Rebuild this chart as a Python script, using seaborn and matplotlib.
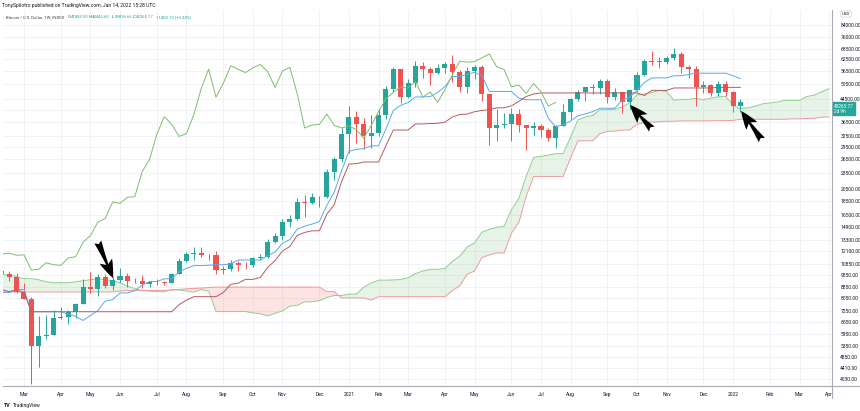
import numpy as np
import pandas as pd
import matplotlib
matplotlib.use("Agg")
import matplotlib.pyplot as plt
from matplotlib.lines import Line2D
import seaborn as sns

# BTC / USD weekly candles (INDEX), week 0 = week of Mon 2 Mar 2020
week = list(range(-3, 98))
opens = [10150, 9920, 9670, 8530, 8030, 5360, 5830, 5880, 6780, 6880,
         7130, 7700, 8900, 8720, 9680, 8920, 9450, 9750, 9340, 9300,
         9130, 9290, 9230, 9170, 9930, 11050, 11770, 11850, 11650, 11680,
         10250, 10330, 10920, 10740, 10680, 11380, 11500, 13030, 13780, 15480,
         15950, 18400, 18180, 19150, 19250, 23850, 26500, 33000, 38200, 35800,
         32250, 33100, 38900, 48600, 57500, 45200, 51000, 59200, 57350, 55800,
         58200, 59800, 56200, 49100, 56600, 58300, 46500, 34700, 35600, 35800,
         39100, 35500, 34700, 35300, 34200, 31800, 35400, 39900, 44600, 47100,
         49300, 48800, 51800, 45200, 47250, 43200, 48200, 54700, 61500, 61000,
         61300, 63300, 65500, 58700, 57300, 49400, 50100, 46700, 50800, 47300,
         41883.50]
highs = [10500, 10180, 9960, 9190, 8170, 6900, 6980, 7300, 7470, 7300,
         7750, 9460, 10050, 9950, 9900, 9740, 10400, 10000, 9620, 9800,
         9370, 9470, 9330, 10000, 11400, 12000, 12480, 12470, 11800, 12090,
         10600, 11180, 11100, 10950, 11500, 11740, 13350, 14070, 15950, 16500,
         19000, 19500, 19900, 19400, 24300, 27000, 34800, 41950, 40100, 37850,
         38700, 40950, 49700, 58300, 57500, 52600, 61700, 61200, 58400, 60200,
         61200, 64900, 57000, 58500, 59500, 59600, 46500, 40900, 39500, 41300,
         41000, 35700, 36600, 35900, 34700, 35500, 42600, 44800, 48200, 49500,
         50500, 52900, 52900, 48800, 47300, 48400, 56000, 62900, 67000, 63700,
         64200, 69000, 66300, 59300, 59100, 51900, 50600, 52000, 52100, 47600,
         44443.60]
lows = [9700, 9300, 8450, 8000, 3850, 4450, 5680, 5860, 6760, 6460,
        6780, 7640, 8400, 8200, 8800, 8630, 9280, 8900, 9200, 8830,
        8900, 9050, 9000, 9150, 9900, 10950, 11150, 11500, 11150, 9880,
        9880, 10200, 10140, 10380, 10530, 11200, 11400, 12950, 13300, 14850,
        15800, 16200, 18150, 17600, 19000, 22300, 26000, 28000, 30400, 28850,
        29150, 32300, 37400, 47050, 43000, 44950, 49300, 53300, 50350, 54900,
        55500, 51500, 47100, 47000, 53000, 43900, 30000, 31000, 34800, 31000,
        33400, 28800, 32700, 32100, 31100, 29300, 35200, 37400, 43900, 43900,
        46300, 46500, 43000, 44000, 39600, 40800, 47100, 54000, 59600, 58000,
        60000, 62300, 55600, 53300, 42000, 46800, 45500, 45600, 45700, 39650,
        39896.66]
closes = [9920, 9670, 8530, 8030, 5360, 5830, 5880, 6780, 6880, 7130,
          7700, 8900, 8720, 9680, 8920, 9450, 9750, 9340, 9300, 9130,
          9290, 9230, 9170, 9930, 11050, 11770, 11850, 11650, 11680, 10250,
          10330, 10920, 10740, 10680, 11380, 11500, 13030, 13780, 15480, 15950,
          18400, 18180, 19150, 19250, 23850, 26500, 33000, 38200, 35800, 32250,
          33100, 38900, 48600, 57500, 45200, 51000, 59200, 57350, 55800, 58200,
          59800, 56200, 49100, 56600, 58300, 46500, 34700, 35600, 35800, 39100,
          35500, 34700, 35300, 34200, 31800, 35400, 39900, 44600, 47100, 49300,
          48800, 51800, 45200, 47250, 43200, 48200, 54700, 61500, 61000, 61300,
          63300, 65500, 58700, 57300, 49400, 50100, 46700, 50800, 47300, 41866,
          43265.77]

# Ichimoku lines
conversion = [8465, 8465, 8685, 8685, 7175, 7175, 7175, 7175, 7175, 7015,
              6905, 6655, 6950, 7250, 7865, 7955, 8430, 8430, 8590, 9020,
              9300, 9300, 9515, 9515, 10115, 10415, 10655, 10655, 10690, 10740,
              10740, 10815, 11180, 11180, 11180, 11175, 11615, 11975, 12915, 13320,
              14570, 14940, 15215, 15550, 17850, 19975, 24050, 28400, 28875, 29075,
              29775, 29775, 34350, 40300, 42150, 43150, 45275, 45275, 45425, 47000,
              49550, 53950, 53950, 54925, 55950, 54400, 47450, 47450, 47450, 47450,
              44800, 44200, 44200, 44200, 37650, 35050, 35700, 36800, 38500, 39150,
              39900, 41100, 41100, 41100, 44050, 45150, 47800, 51250, 53300, 53300,
              53300, 54300, 54300, 54900, 55500, 55500, 55500, 55500, 55500, 54325,
              52975]
base = [8690, 8515, 8665, 8465, 7175, 7175, 7175, 7175, 7175, 7175,
        7175, 7175, 7175, 7175, 7175, 7175, 7175, 7175, 7175, 7175,
        7175, 7175, 7175, 7175, 7625, 7925, 8165, 8165, 8165, 8165,
        8465, 9080, 9170, 9470, 9470, 9630, 10495, 11135, 12075, 12565,
        13815, 14165, 14365, 14365, 16565, 17950, 21900, 25475, 25550, 25915,
        25915, 25915, 29790, 34090, 34090, 34090, 35920, 35920, 36040, 36115,
        36450, 38150, 38925, 39100, 39875, 40350, 40550, 41250, 41250, 41950,
        43600, 45450, 46450, 46850, 46850, 46850, 46850, 46850, 46850, 46850,
        46850, 46850, 46850, 46850, 46850, 46850, 46850, 45850, 47900, 47900,
        47900, 48900, 48900, 48900, 48900, 48900, 48900, 49150, 49150, 49150,
        49150]
cloud_week = list(range(-3, 110))
span_a = [9860, 9860, 9690, 9530, 9530, 9440, 9280, 9200, 9200, 9200,
          9280, 9360, 9440, 9530, 9440, 9360, 9200, 8950, 8750, 8600,
          8560, 8530, 8500, 8690, 8645, 8578, 8490, 8675, 8575, 7185,
          7185, 7185, 7185, 7185, 7105, 7050, 6925, 7073, 7223, 7530,
          7575, 7813, 7813, 7893, 8108, 8248, 8248, 8355, 8345, 8870,
          9170, 9410, 9410, 9428, 9453, 9603, 9948, 10175, 10325, 10325,
          10403, 11055, 11555, 12495, 12943, 14193, 14553, 14790, 14958, 17208,
          18963, 22975, 26938, 27213, 27495, 27845, 27845, 32070, 37195, 38120,
          38620, 40598, 40598, 40733, 41558, 43000, 46050, 46438, 47013, 47913,
          47375, 44000, 44350, 44350, 44700, 44200, 44825, 45325, 45525, 42250,
          40950, 41275, 41825, 42675, 43000, 43375, 43975, 43975, 43975, 45450,
          46000, 47325, 48550]
span_b = [8500, 8500, 8500, 8500, 8500, 8500, 8500, 8500, 8500, 8500,
          8500, 8500, 8500, 8500, 8500, 8500, 8565, 8615, 8615, 8615,
          8615, 8615, 8615, 8640, 8690, 8740, 8765, 8790, 8830, 8865,
          8865, 8865, 8865, 8865, 8865, 8865, 8865, 8865, 8865, 8865,
          8865, 8865, 8865, 8865, 8525, 8525, 8075, 8075, 8075, 8075,
          7925, 8165, 8165, 8165, 8165, 8165, 8165, 8165, 8165, 8165,
          8165, 8600, 8960, 9900, 10175, 11425, 11675, 11875, 11875, 14075,
          15425, 19325, 22900, 22900, 22900, 22900, 22900, 26775, 31075, 31075,
          31075, 33075, 33690, 33780, 34080, 34080, 35840, 36270, 36550, 36550,
          36765, 36765, 36865, 36865, 36865, 36865, 36900, 36950, 36950, 37025,
          37390, 37390, 37390, 37390, 37390, 37390, 37390, 37520, 37520, 37640,
          37715, 38050, 38150]

month_pos = [0, 5, 9, 13, 18, 22, 27, 31, 35, 40, 44, 48, 52, 57, 61, 66,
             70, 74, 79, 83, 87, 92, 96, 101, 105, 109]
month_lbl = ["Mar", "Apr", "May", "Jun", "Jul", "Aug", "Sep", "Oct", "Nov",
             "Dec", "2021", "Feb", "Mar", "Apr", "May", "Jun", "Jul", "Aug",
             "Sep", "Oct", "Nov", "Dec", "2022", "Feb", "Mar", "Apr"]
price_ticks = [84000, 76000, 68500, 62500, 56500, 50500, 44500, 40500, 36500,
               32500, 29500, 26500, 23500, 20500, 18500, 16500, 14900, 13300,
               12100, 10850, 9850, 8850, 8050, 7250, 6550, 5950, 5350, 4850,
               4410, 4030]
hidden_tick = 40500  # sits under the last-price label

UP = "#26a69a"
DOWN = "#ef5350"
TXT = "#131722"

sns.set_theme(style="white")
plt.rcParams["font.family"] = ["Roboto", "DejaVu Sans"]

df = pd.DataFrame({"week": week, "open": opens, "high": highs, "low": lows,
                   "close": closes, "conv": conversion, "base": base})
cloud = pd.DataFrame({"week": cloud_week, "a": span_a, "b": span_b})
lag = pd.DataFrame({"week": week[:-25], "lag": closes[25:]})

fig = plt.figure(figsize=(8.6, 4.11), dpi=100)
ax = fig.add_axes([3 / 860, 25 / 411, 829 / 860, 376 / 411])
ax.set_yscale("log")

# cloud
a = cloud["a"].to_numpy(float)
b = cloud["b"].to_numpy(float)
ax.fill_between(cloud["week"], a, b, where=a >= b, interpolate=True,
                color="#43a047", alpha=0.12, lw=0, zorder=1)
ax.fill_between(cloud["week"], a, b, where=a < b, interpolate=True,
                color="#f44336", alpha=0.14, lw=0, zorder=1)
sns.lineplot(data=cloud, x="week", y="a", ax=ax, color="#8fcf8f", lw=0.7,
             estimator=None, sort=False, zorder=2)
sns.lineplot(data=cloud, x="week", y="b", ax=ax, color="#ef9a9a", lw=0.7,
             estimator=None, sort=False, zorder=2)

# candles
o = df["open"].to_numpy(float)
c = df["close"].to_numpy(float)
col = np.where(c >= o, UP, DOWN)
lo = np.minimum(o, c)
hi = np.maximum(np.maximum(o, c), lo * 1.006)
ax.vlines(df["week"], df["low"], df["high"], colors=col, lw=0.7, zorder=3)
ax.bar(df["week"], hi - lo, bottom=lo, width=0.68, color=col, lw=0, zorder=3)

# ichimoku lines
sns.lineplot(data=df, x="week", y="conv", ax=ax, color="#5aa9f0", lw=0.7,
             estimator=None, sort=False, zorder=4)
sns.lineplot(data=df, x="week", y="base", ax=ax, color="#b85a5a", lw=0.7,
             estimator=None, sort=False, zorder=4)
sns.lineplot(data=lag, x="week", y="lag", ax=ax, color="#7cbf6a", lw=0.7,
             estimator=None, sort=False, zorder=4)

# arrows drawn on the chart
arrow = dict(arrowstyle="fancy,head_length=1.1,head_width=0.8,tail_width=0.45",
             color="black", lw=0, shrinkA=0, shrinkB=0, mutation_scale=12)
for tail, head in [((10.0, 13050), (12.05, 9580)),
                   ((85.0, 34380), (82.06, 42270)),
                   ((99.9, 31300), (97.1, 40140))]:
    ax.annotate("", xy=head, xytext=tail, arrowprops=arrow, zorder=6)

ax.set_xlim(-2.84, 109.4)
ax.set_ylim(3795, 95430)
ax.set_xlabel("")
ax.set_ylabel("")
ax.set_xticks(month_pos)
ax.set_xticklabels(month_lbl)
ax.yaxis.tick_right()
ax.set_yticks(price_ticks)
ax.set_yticklabels(["" if p == hidden_tick else f"{p:.2f}" for p in price_ticks])
ax.minorticks_off()
ax.tick_params(axis="both", length=0, labelsize=3.6, colors=TXT)
ax.tick_params(axis="x", pad=4)
ax.tick_params(axis="y", pad=6)
ax.grid(True, color="#edf0f5", lw=0.6, zorder=0)
for s in ["left", "top"]:
    ax.spines[s].set_visible(False)
for s in ["right", "bottom"]:
    ax.spines[s].set_color("#a9acb4")
    ax.spines[s].set_linewidth(0.8)

# axis lines extending under the scales
fig.add_artist(Line2D([832 / 860, 1.0], [25 / 411, 25 / 411],
                      color="#a9acb4", lw=0.8))
fig.add_artist(Line2D([832 / 860, 832 / 860], [13 / 411, 25 / 411],
                      color="#a9acb4", lw=0.8))

# last price label
ax.annotate("43265.77\n2d 9h", xy=(1.0, 43265.77),
            xycoords=("axes fraction", "data"), xytext=(1.5, -1.0),
            textcoords="offset points", ha="left", va="top", fontsize=3.4,
            color="white", linespacing=1.1,
            bbox=dict(boxstyle="square,pad=0.3", fc=UP, ec=UP), zorder=7,
            annotation_clip=False)
fig.text(846 / 860, 1 - 14 / 411, "USD", fontsize=3.2, color=TXT, ha="center",
         va="center", bbox=dict(boxstyle="round,pad=0.25", fc="white",
                                ec="#c9ccd3", lw=0.5))

# header
fig.text(2 / 860, 1 - 5 / 411, "TonySpilotro published on TradingView.com, Jan 14, 2022 15:28 UTC",
         fontsize=3.6, color=TXT, va="center")
fig.text(6 / 860, 1 - 17 / 411, "Bitcoin / U.S. Dollar, 1W, INDEX",
         fontsize=3.1, color="#434651", va="center")
for x0, key, val in [(68, "O", "41883.50"), (89, "H", "44443.60"),
                     (112, "L", "39896.66"), (133, "C", "43265.77")]:
    fig.text(x0 / 860, 1 - 17 / 411, key, fontsize=3.1, color="#434651", va="center")
    fig.text((x0 + 3) / 860, 1 - 17 / 411, val, fontsize=3.1, color=UP, va="center")
fig.text(156 / 860, 1 - 17 / 411, "+1400.12 (+3.34%)", fontsize=3.1, color=UP,
         va="center")

# logo
fig.text(4 / 860, 1 - 405 / 411, "TV", fontsize=3.8, color=TXT, va="center",
         weight="bold")
fig.text(13 / 860, 1 - 405 / 411, "TradingView", fontsize=3.6, color=TXT,
         va="center")

fig.savefig("out.png", dpi=100, facecolor="white")
